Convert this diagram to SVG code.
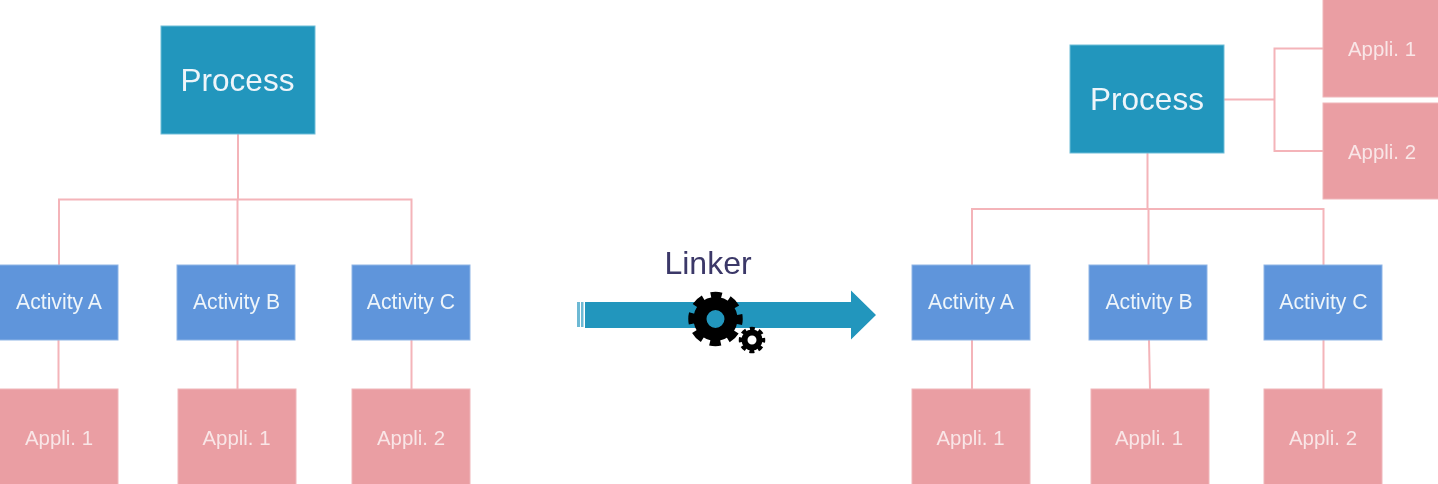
<svg xmlns="http://www.w3.org/2000/svg" width="1438" height="484" viewBox="0 0 1438 484">
<style>
text{font-family:"Liberation Sans",Arial,sans-serif;text-anchor:middle;fill:#eef5fa}
.p rect{fill:#2196bd;stroke:#6fbdd8;stroke-width:1}
.p text{font-size:31.5px}
.a rect{fill:#5f95db;stroke:#8fb5e6;stroke-width:1}
.a text{font-size:21.2px}
.b text{font-size:20.4px;fill:#f9e6e7}
.b rect{fill:#ea9ea3;stroke:#f0b6ba;stroke-width:1}
#connectors path{fill:none;stroke:#f4b4b9;stroke-width:2}
#linker text{font-size:32px;fill:#3b3768}
</style>
<defs>
<filter id="soft" x="0" y="0" width="100%" height="100%"><feGaussianBlur stdDeviation="0.6"/></filter>
</defs>
<rect width="1438" height="484" fill="#ffffff"/>
<g filter="url(#soft)">
<g id="connectors">
<path d="M238 134V199M59 265V199.500H411.500V265M237.500 199V265M58.500 340V389M237.500 340V389M411.500 340V389"/>
<path d="M1147.500 153V209M972 265V209H1323.500V265M1148.500 209V265M972 340V389M1149 340L1150 389M1323.500 340V389"/>
<path d="M1224 99.500H1274.500M1323 48.500H1274.500V151H1323"/>
</g>
<g id="process-left" class="p"><rect x="161" y="26" width="154" height="108"/><text x="237.500" y="91">Process</text></g>
<g id="activity-a-left" class="a"><rect x="-3" y="265" width="121" height="75"/><text x="59" y="309">Activity A</text></g>
<g id="activity-b-left" class="a"><rect x="177" y="265" width="118" height="75"/><text x="236.500" y="309">Activity B</text></g>
<g id="activity-c-left" class="a"><rect x="352" y="265" width="118" height="75"/><text x="411" y="309">Activity C</text></g>
<g id="appli-a-left" class="b"><rect x="-3" y="389" width="121" height="100"/><text x="59" y="445">Appli. 1</text></g>
<g id="appli-b-left" class="b"><rect x="178" y="389" width="118" height="100"/><text x="236.500" y="445">Appli. 1</text></g>
<g id="appli-c-left" class="b"><rect x="352" y="389" width="118" height="100"/><text x="411" y="445">Appli. 2</text></g>
<g id="linker">
<text x="708" y="274">Linker</text>
<path d="M577 302H580V327H577ZM581 302H583.500V327H581Z" fill="#6db9d4"/>
<path d="M585 302H851V290.500L876 315L851 339.500V328H585Z" fill="#2196bd"/>
<g fill="none" stroke="#000">
<circle cx="715.500" cy="319" r="15.500" stroke-width="13"/>
<circle cx="715.500" cy="319" r="24" stroke-width="6.500" stroke-dasharray="11 7.850" stroke-dashoffset="5.500"/>
<circle cx="752" cy="340" r="7.500" stroke-width="6"/>
<circle cx="752" cy="340" r="11.500" stroke-width="3.500" stroke-dasharray="5 4.030" stroke-dashoffset="2.500"/>
</g>
</g>
<g id="process-right" class="p"><rect x="1070" y="45" width="154" height="108"/><text x="1147" y="110">Process</text></g>
<g id="appli-1-top" class="b"><rect x="1323" y="-4" width="120" height="101"/><text x="1382" y="56">Appli. 1</text></g>
<g id="appli-2-top" class="b"><rect x="1323" y="103" width="120" height="96"/><text x="1382" y="159">Appli. 2</text></g>
<g id="activity-a-right" class="a"><rect x="912" y="265" width="118" height="75"/><text x="971" y="309">Activity A</text></g>
<g id="activity-b-right" class="a"><rect x="1089" y="265" width="118" height="75"/><text x="1149" y="309">Activity B</text></g>
<g id="activity-c-right" class="a"><rect x="1264" y="265" width="118" height="75"/><text x="1323.500" y="309">Activity C</text></g>
<g id="appli-a-right" class="b"><rect x="912" y="389" width="118" height="100"/><text x="970.500" y="445">Appli. 1</text></g>
<g id="appli-b-right" class="b"><rect x="1091" y="389" width="118" height="100"/><text x="1149" y="445">Appli. 1</text></g>
<g id="appli-c-right" class="b"><rect x="1264" y="389" width="118" height="100"/><text x="1323" y="445">Appli. 2</text></g>
</g>
</svg>
